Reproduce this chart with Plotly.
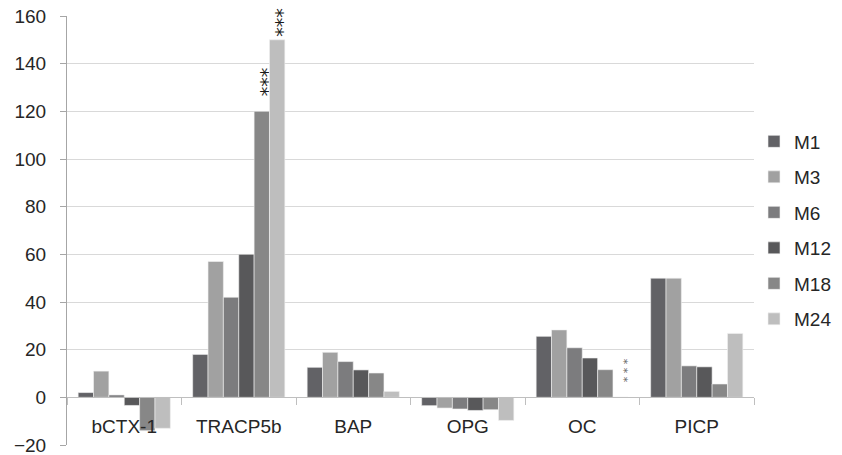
import plotly.graph_objects as go

categories = ["bCTX-1", "TRACP5b", "BAP", "OPG", "OC", "PICP"]
series_names = ["M1", "M3", "M6", "M12", "M18", "M24"]
m1 = [2, 18, 12.6, -3.5, 25.6, 50]
m3 = [11, 57, 18.9, -4.5, 28.3, 50]
m6 = [1, 42, 15, -4.9, 20.8, 13.2]
m12 = [-3.4, 60, 11.5, -5.5, 16.5, 12.8]
m18 = [-14, 120, 10.2, -5.2, 11.6, 5.6]
m24 = [-13, 150, 2.5, -9.7, 0, 26.8]
m18_sig = ["", "***", "", "", "", ""]
m24_sig = ["", "***", "", "", "", ""]
oc_m24_sig = "* * *"
y_ticks = [-20, 0, 20, 40, 60, 80, 100, 120, 140, 160]

colors = ["#626266", "#a1a1a1", "#7c7c7e", "#58585a", "#878787", "#bebebe"]
values = [m1, m3, m6, m12, m18, m24]
texts = [None, None, None, None, m18_sig, m24_sig]

NB = "\u00a0"
FONT = "Liberation Sans"
BARGAP = 0.195
# the page body adds an 8px offset; the figure is sized to compensate
W, H = 834, 447
ML, MR, MT, MB = 59, 88, 8, 10
fig = go.Figure()
for i, (name, vals) in enumerate(zip(series_names, values)):
    kw = {}
    if texts[i] is not None:
        pad = 2 if name == "M18" else 0
        shown = [(t + NB * pad) if t else "" for t in texts[i]]
        kw = dict(text=shown, textposition="outside", textangle=90,
                  textfont=dict(family="DejaVu Sans", size=19, color="#1a1a1a"),
                  constraintext="none", cliponaxis=False)
    fig.add_trace(go.Bar(x=categories, y=vals, name=name, legendgroup=name,
                         marker=dict(color=colors[i], line=dict(color="#f2f2f2", width=0.6)),
                         **kw))

# small significance marks above the (empty) M24 slot of OC
plot_w = W - ML - MR
cat_w = plot_w / len(categories)
bar_w = cat_w * (1 - BARGAP) / len(series_names)
slot = series_names.index("M24")
fig.add_annotation(x="OC", y=m24[categories.index("OC")], xref="x", yref="y",
                   text=oc_m24_sig, textangle=90, showarrow=False,
                   xshift=(slot - (len(series_names) - 1) / 2) * bar_w + 3, yanchor="bottom",
                   yshift=13, font=dict(family="DejaVu Sans", size=11, color="#666666"))

fig.update_layout(
    width=W, height=H,
    margin=dict(l=ML, r=MR, t=MT, b=MB),
    paper_bgcolor="white", plot_bgcolor="white",
    barmode="group", bargap=BARGAP, bargroupgap=0,
    font=dict(family=FONT, size=19, color="#262626"),
    showlegend=True,
    legend=dict(xref="container", x=746 / W, xanchor="left",
                yref="paper", y=0.5, yanchor="middle",
                traceorder="grouped", tracegroupgap=7.8,
                font=dict(family=FONT, size=19, color="#262626")),
)
fig.update_yaxes(range=[-20, 160], tickvals=y_ticks, showgrid=True, gridcolor="#d9d9d9",
                 gridwidth=1, zeroline=False, showline=True, linecolor="#a6a6a6",
                 ticks="outside", ticklen=6, tickcolor="#a6a6a6", ticklabelstandoff=10,
                 tickfont=dict(size=19), automargin=False, ticklabeloverflow="allow")
fig.update_xaxes(anchor="free", position=20 / 180, showline=True, linecolor="#bfbfbf",
                 ticks="outside", tickson="boundaries", ticklen=7, tickcolor="#bfbfbf",
                 showgrid=False, zeroline=False, ticklabelstandoff=12, automargin=False,
                 tickfont=dict(size=19))

fig.write_html("out.html")
